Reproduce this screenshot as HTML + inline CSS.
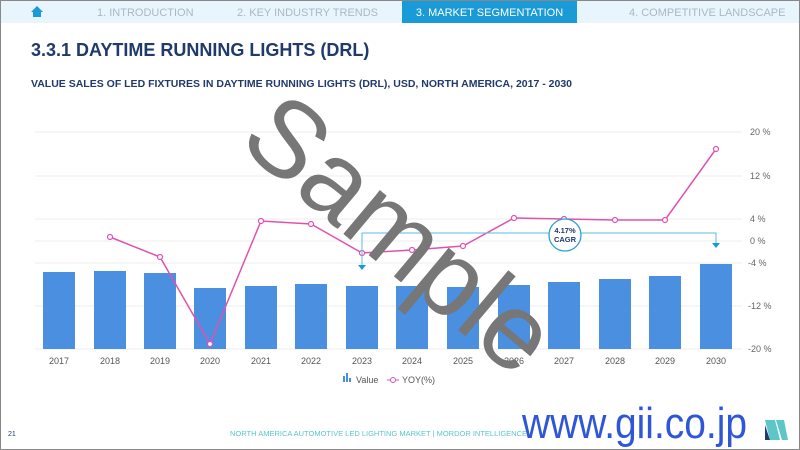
<!DOCTYPE html>
<html><head><meta charset="utf-8"><style>
body{margin:0;width:800px;height:450px;overflow:hidden;background:#fff;font-family:"Liberation Sans",sans-serif;}
.frame{position:absolute;left:0;top:0;width:798px;height:448px;border:1px solid #888;}
.nav{position:absolute;left:1px;top:1px;width:798px;height:22px;background:#e8f5fc;}
.nav span{position:absolute;top:6px;font-size:11px;color:#a9b8c2;}
.act{position:absolute;left:402px;top:1px;width:175px;height:22px;background:#1a9ad6;color:#fff;font-size:11px;text-align:center;line-height:24px;}
</style></head><body>
<div class="frame"></div>
<div class="nav">
<svg style="position:absolute;left:30px;top:5px" width="12" height="12"><path d="M6 0 L12 6 L10 6 L10 11 L2 11 L2 6 L0 6Z" fill="#1a9ad6"/></svg>
<span style="left:96px">1. INTRODUCTION</span>
<span style="left:236px">2. KEY INDUSTRY TRENDS</span>
<span style="left:628px">4. COMPETITIVE LANDSCAPE</span>
</div>
<div class="act">3. MARKET SEGMENTATION</div>
<div style="position:absolute;left:31px;top:40px;font-size:18px;font-weight:bold;color:#1f3a6b">3.3.1 DAYTIME RUNNING LIGHTS (DRL)</div>
<div style="position:absolute;left:31px;top:78px;font-size:10.5px;font-weight:bold;color:#1f3a6b">VALUE SALES OF LED FIXTURES IN DAYTIME RUNNING LIGHTS (DRL), USD, NORTH AMERICA, 2017 - 2030</div>
<svg style="position:absolute;left:0;top:0" width="800" height="450" font-family="Liberation Sans, sans-serif">
<g stroke="#eee" stroke-width="1">
<line x1="35" x2="742" y1="132" y2="132"/><line x1="35" x2="742" y1="176" y2="176"/><line x1="35" x2="742" y1="219" y2="219"/><line x1="35" x2="742" y1="241" y2="241"/><line x1="35" x2="742" y1="263" y2="263"/><line x1="35" x2="742" y1="306" y2="306"/><line x1="35" x2="742" y1="349" y2="349"/>
</g>
<g font-size="9" fill="#666">
<text x="750" y="135">20 %</text><text x="750" y="179">12 %</text><text x="750" y="222">4 %</text><text x="750" y="244">0 %</text><text x="748" y="266">-4 %</text><text x="748" y="309">-12 %</text><text x="748" y="352">-20 %</text>
</g>
<g fill="#4a8fe0">
<rect x="43" y="272" width="32" height="77"/><rect x="94" y="271" width="32" height="78"/><rect x="144" y="273" width="32" height="76"/><rect x="194" y="288" width="32" height="61"/><rect x="245" y="286" width="32" height="63"/><rect x="295" y="284" width="32" height="65"/><rect x="346" y="286" width="32" height="63"/><rect x="396" y="286" width="32" height="63"/><rect x="447" y="287" width="32" height="62"/><rect x="498" y="285" width="32" height="64"/><rect x="548" y="282" width="32" height="67"/><rect x="599" y="279" width="32" height="70"/><rect x="649" y="276" width="32" height="73"/><rect x="700" y="264" width="32" height="85"/>
</g>
<g font-size="9" fill="#555" text-anchor="middle">
<text x="59" y="364">2017</text><text x="110" y="364">2018</text><text x="160" y="364">2019</text><text x="210" y="364">2020</text><text x="261" y="364">2021</text><text x="311" y="364">2022</text><text x="362" y="364">2023</text><text x="412" y="364">2024</text><text x="463" y="364">2025</text><text x="514" y="364">2026</text><text x="564" y="364">2027</text><text x="615" y="364">2028</text><text x="665" y="364">2029</text><text x="716" y="364">2030</text>
</g>
<polyline fill="none" stroke="#e052b0" stroke-width="1.5" points="110,237 160,257 210,344 261,221 311,224 362,253 412,250 463,246 514,218 564,219 615,220 665,220 716,149"/>
<g fill="#fff" stroke="#e052b0" stroke-width="1.2">
<circle cx="110" cy="237" r="2.5"/><circle cx="160" cy="257" r="2.5"/><circle cx="210" cy="344" r="2.5"/><circle cx="261" cy="221" r="2.5"/><circle cx="311" cy="224" r="2.5"/><circle cx="362" cy="253" r="2.5"/><circle cx="412" cy="250" r="2.5"/><circle cx="463" cy="246" r="2.5"/><circle cx="514" cy="218" r="2.5"/><circle cx="564" cy="219" r="2.5"/><circle cx="615" cy="220" r="2.5"/><circle cx="665" cy="220" r="2.5"/><circle cx="716" cy="149" r="2.5"/>
</g>
<polyline fill="none" stroke="#5bbde0" stroke-width="1" points="362,265 362,233 716,233 716,243"/>
<path d="M358,265 L366,265 L362,270Z M712,243 L720,243 L716,248Z" fill="#1a9ad6"/>
<circle cx="565" cy="235" r="16" fill="#fff" stroke="#2aa0d6" stroke-width="1.3"/>
<text x="565" y="233" font-size="7.5" font-weight="bold" fill="#1f3a6b" text-anchor="middle">4.17%</text>
<text x="565" y="242" font-size="7.5" font-weight="bold" fill="#1f3a6b" text-anchor="middle">CAGR</text>
<rect x="343" y="376" width="2" height="6" fill="#4a8fe0"/><rect x="346" y="373" width="2" height="9" fill="#4a8fe0"/><rect x="349" y="378" width="2" height="4" fill="#4a8fe0"/>
<text x="356" y="383" font-size="9" fill="#555">Value</text>
<line x1="387" x2="399" y1="380" y2="380" stroke="#e052b0"/><circle cx="393" cy="380" r="2.5" fill="#fff" stroke="#e052b0"/>
<text x="402" y="383" font-size="9" fill="#555">YOY(%)</text>
<text x="395" y="240" font-size="108" fill="#777" text-anchor="middle" dominant-baseline="middle" transform="rotate(40 395 240)">Sample</text>
<text x="8" y="436" font-size="7" fill="#1f3a6b">21</text>
<text x="230" y="436" font-size="7.5" fill="#5cc6c9">NORTH AMERICA AUTOMOTIVE LED LIGHTING MARKET | MORDOR INTELLIGENCE</text>
<text x="522" y="438" font-size="44" fill="#2f56d8" textLength="225" lengthAdjust="spacingAndGlyphs">www.gii.co.jp</text>
<path d="M765,420 L775,420 L780,440 L770,440Z M776,420 L784,420 L788,440 L782,440Z" fill="#5cc6c9"/>
<path d="M765,425 L770,440 L765,440Z" fill="#1f3a6b"/>
</svg>
</body></html>
